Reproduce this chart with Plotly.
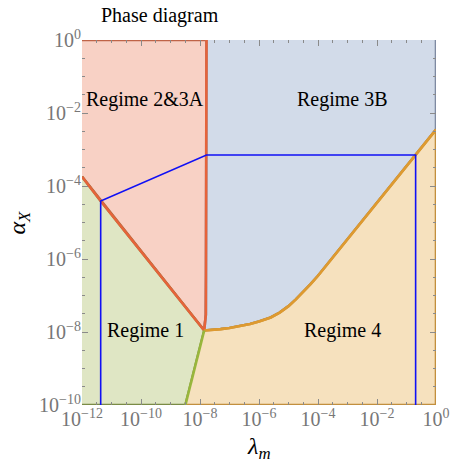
import numpy as np
import plotly.graph_objects as go

# axis limits
lam_min, lam_max = 1e-12, 1.0
alpha_min, alpha_max = 1e-10, 1.0

# boundary: regime 1 / regime 2&3A
b12_lam = [1e-12, 4.3e-12, 1.39e-8]
b12_alpha = [1.8e-4, 3.9e-5, 1.10e-8]

# boundary: regime 2&3A / regime 3B (vertical, bending into the triple point)
b23_lam = [1.66e-8, 1.66e-8, 1.64e-8, 1.58e-8, 1.39e-8]
b23_alpha = [1.0, 1e-6, 8e-8, 3.0e-8, 1.10e-8]

# boundary: regime 3B / regime 4
b34_lam = [1.39e-8, 2.5e-8, 5.0e-8, 1e-7, 2.5e-7, 5e-7, 1e-6, 2.5e-6, 5e-6, 1e-5,
           1.78e-5, 3.16e-5, 5.6e-5, 1e-4, 1e-3, 1e-2, 1e-1, 1.0]
b34_alpha = [1.10e-8, 1.135e-8, 1.2e-8, 1.29e-8, 1.45e-8, 1.66e-8, 1.95e-8, 2.5e-8,
             3.4e-8, 5.1e-8, 7.8e-8, 1.23e-7, 2.04e-7, 3.47e-7, 3.5e-6, 3.5e-5,
             3.5e-4, 3.5e-3]

# boundary: regime 1 / regime 4
b14_lam = [1.39e-8, 3.2e-9]
b14_alpha = [1.10e-8, 1e-10]

# blue contour
blue_lam = [4.3e-12, 4.3e-12, 1.66e-8, 0.204, 0.204]
blue_alpha = [1e-10, 3.9e-5, 7.1e-4, 7.1e-4, 1e-10]

# region labels
region_names = ["Regime 2&3A", "Regime 3B", "Regime 1", "Regime 4"]
region_lam = [1.35e-10, 6.9e-4, 1.38e-10, 6.9e-4]
region_alpha = [2.3e-2, 2.3e-2, 1.12e-8, 1.12e-8]

# ticks
major_exp_x = [-12, -10, -8, -6, -4, -2, 0]
major_exp_y = [-10, -8, -6, -4, -2, 0]

SERIF = "Times New Roman, Liberation Serif, serif"

fig = go.Figure()

# region polygons
red_x = [lam_min] + b23_lam + b12_lam[::-1][1:]
red_y = [alpha_max] + b23_alpha + b12_alpha[::-1][1:]
blue_x = b23_lam + b34_lam[1:] + [lam_max]
blue_y = b23_alpha + b34_alpha[1:] + [alpha_max]
green_x = b12_lam + b14_lam[1:] + [lam_min]
green_y = b12_alpha + b14_alpha[1:] + [alpha_min]
orange_x = b34_lam + [lam_max, b14_lam[-1]]
orange_y = b34_alpha + [alpha_min, b14_alpha[-1]]

regions = [
    (red_x, red_y, "#F8D1C5", "#BF6448"),
    (blue_x, blue_y, "#D2DBE9", "#7F8AA2"),
    (green_x, green_y, "#DFE6C4", "#7A8B45"),
    (orange_x, orange_y, "#F6E1BE", "#C28F3E"),
]
for xs, ys, fill, edge in regions:
    fig.add_trace(go.Scatter(x=xs, y=ys, fill="toself", fillcolor=fill, mode="lines",
                             line=dict(color=edge, width=2.6), hoverinfo="skip",
                             showlegend=False))

# phase boundaries
for xs, ys, col in [(b12_lam, b12_alpha, "#E6633A"),
                    (b23_lam, b23_alpha, "#E6633A"),
                    (b34_lam, b34_alpha, "#DE9A30"),
                    (b14_lam, b14_alpha, "#98B63C")]:
    fig.add_trace(go.Scatter(x=xs, y=ys, mode="lines", line=dict(color=col, width=2.6),
                             hoverinfo="skip", showlegend=False))

fig.add_trace(go.Scatter(x=blue_lam, y=blue_alpha, mode="lines",
                         line=dict(color="#1010F5", width=1.6),
                         hoverinfo="skip", showlegend=False))

for name, lx, ly in zip(region_names, region_lam, region_alpha):
    fig.add_annotation(x=np.log10(lx), y=np.log10(ly), text=name, showarrow=False,
                       xanchor="center", yanchor="middle",
                       font=dict(family=SERIF, size=20, color="black"))

# title and axis titles
fig.add_annotation(xref="paper", yref="paper", x=0.22, y=1, yshift=25, text="Phase diagram",
                   showarrow=False, xanchor="center", yanchor="middle",
                   font=dict(family=SERIF, size=20, color="black"))
fig.add_annotation(xref="paper", yref="paper", x=0.5, y=0, yshift=-43,
                   text="<i>λ<sub>m</sub></i>", showarrow=False,
                   xanchor="center", yanchor="middle",
                   font=dict(family=SERIF, size=24, color="black"))
fig.add_annotation(xref="paper", yref="paper", x=0, y=0.5, xshift=-64,
                   text="<i>α<sub>X</sub></i>", showarrow=False, textangle=-90,
                   xanchor="center", yanchor="middle",
                   font=dict(family=SERIF, size=24, color="black"))


def tick_text(e):
    return "10<sup>%s</sup>" % (str(e).replace("-", "\u2212"))


def minor_vals(lo, hi, majors):
    vals = []
    for k in range(lo * 2, hi * 2 + 1):
        e = k / 2
        if e not in majors:
            vals.append(10 ** e)
    return vals


axis_common = dict(type="log", showgrid=False, zeroline=False, showline=False,
                   ticks="inside", ticklen=6, tickwidth=1, tickcolor="#8a8a8a",
                   mirror="ticks", tickmode="array",
                   tickfont=dict(family=SERIF, size=20, color="#777777"))

fig.update_xaxes(range=[-12, 0], tickvals=[10.0 ** e for e in major_exp_x],
                 ticktext=[tick_text(e) for e in major_exp_x],
                 minor=dict(tickvals=minor_vals(-12, 0, major_exp_x), ticks="inside",
                            ticklen=3, tickcolor="#8a8a8a", showgrid=False),
                 **axis_common)
fig.update_yaxes(range=[-10, 0], tickvals=[10.0 ** e for e in major_exp_y],
                 ticktext=[tick_text(e) for e in major_exp_y],
                 minor=dict(tickvals=minor_vals(-10, 0, major_exp_y), ticks="inside",
                            ticklen=3, tickcolor="#8a8a8a", showgrid=False),
                 **axis_common)

fig.update_layout(width=462, height=465, margin=dict(l=82, r=16, t=40, b=60),
                  paper_bgcolor="white", plot_bgcolor="white", showlegend=False)

fig.write_html("out.html")
